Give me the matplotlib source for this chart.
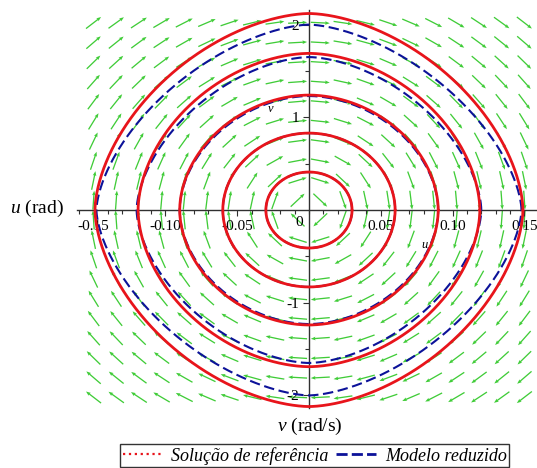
import numpy as np
import matplotlib
matplotlib.use("Agg")
import matplotlib.pyplot as plt
from matplotlib.lines import Line2D
from matplotlib.ticker import FixedLocator, FixedFormatter

plt.rcParams['font.family'] = ['Liberation Serif', 'DejaVu Serif']
plt.rcParams['axes.unicode_minus'] = False
plt.rcParams['mathtext.fontset'] = 'custom'
plt.rcParams['mathtext.it'] = 'Liberation Serif:italic'
plt.rcParams['mathtext.rm'] = 'Liberation Serif'

# ---- closed orbits: amplitudes in u (rad), v (rad/s) and roundness exponent ----
ref_u_amp = [0.030, 0.060, 0.090, 0.119, 0.149]
ref_v_amp = [0.41, 0.83, 1.24, 1.69, 2.12]
ref_shape = [2.00, 1.96, 1.90, 1.82, 1.72]

rom_u_amp = [0.030, 0.060, 0.090, 0.120, 0.148]
rom_v_amp = [0.41, 0.83, 1.23, 1.65, 2.00]
rom_shape = [2.00, 1.96, 1.86, 1.70, 1.62]

# ---- direction field: grid and model coefficients ----
field_u_range = (-0.15, 0.15)
field_v_range = (-2.02, 2.02)
field_n = 20
omega2 = 196.0      # linear stiffness term
soft_c = 8.0        # cubic softening coefficient

x_ticks = [-0.15, -0.10, -0.05, 0.05, 0.10, 0.15]
x_tick_labels = ['-0.15', '-0.10', '-0.05', '0.05', '0.10', '0.15']
y_ticks = [-2, -1, 1, 2]
y_tick_labels = ['-2', '-1', '1', '2']

legend_labels = ['Solução de referência', 'Modelo reduzido']

RED = '#e8141b'
BLUE = '#0c1299'
GREEN = '#40cc38'

W, H = 537, 468
fig = plt.figure(figsize=(W / 100, H / 100), dpi=100)

# axes box in pixels (left, right, top, bottom)
xl, xr, yt, yb = 76.6, 537.0, 9.8, 408.4
ax = fig.add_axes([xl / W, 1 - yb / H, (xr - xl) / W, (yb - yt) / H])
ax.set_xlim(-0.1618, 0.1588)
ax.set_ylim(-2.14, 2.16)
ax.patch.set_alpha(0)

# axes crossing at the origin
for side in ('top', 'right'):
    ax.spines[side].set_visible(False)
for side in ('left', 'bottom'):
    ax.spines[side].set_position(('data', 0))
    ax.spines[side].set_color('#303030')
    ax.spines[side].set_linewidth(1.0)
    ax.spines[side].set_zorder(1.5)

ax.xaxis.set_major_locator(FixedLocator(x_ticks))
ax.xaxis.set_major_formatter(FixedFormatter(x_tick_labels))
ax.xaxis.set_minor_locator(FixedLocator(np.round(np.arange(-0.16, 0.161, 0.01), 3)))
ax.yaxis.set_major_locator(FixedLocator(y_ticks))
ax.yaxis.set_major_formatter(FixedFormatter(y_tick_labels))
ax.yaxis.set_minor_locator(FixedLocator([-1.5, -0.5, 0.5, 1.5]))
ax.tick_params(which='both', direction='out', color='#303030', width=0.8,
               labelsize=11)
ax.tick_params(which='major', length=4, pad=3)
ax.tick_params(which='minor', length=3)

# direction field, arrows of constant on-screen length
sx = (xr - xl) / (ax.get_xlim()[1] - ax.get_xlim()[0])
sy = (yb - yt) / (ax.get_ylim()[1] - ax.get_ylim()[0])
uu, vv = np.meshgrid(np.linspace(*field_u_range, field_n),
                     np.linspace(*field_v_range, field_n))
du = vv
dv = -omega2 * (uu - soft_c * uu ** 3)
px, py = du * sx, dv * sy
nrm = np.hypot(px, py)
L = 19.0
U = L * px / nrm / sx
V = L * py / nrm / sy
ax.quiver(uu, vv, U, V, angles='xy', scale_units='xy', scale=1,
          pivot='middle', color=GREEN, units='dots', width=1.3,
          headwidth=2.8, headlength=3.6, headaxislength=3.2, zorder=1)

t = np.linspace(0, 2 * np.pi, 1441)


def orbit(a, b, n):
    c, s = np.cos(t), np.sin(t)
    return (a * np.sign(c) * np.abs(c) ** (2 / n),
            b * np.sign(s) * np.abs(s) ** (2 / n))


for a, b, n in zip(rom_u_amp, rom_v_amp, rom_shape):
    x, y = orbit(a, b, n)
    ax.plot(x, y, color=BLUE, lw=1.5, dashes=(5, 2.2), zorder=2)

for a, b, n in zip(ref_u_amp, ref_v_amp, ref_shape):
    x, y = orbit(a, b, n)
    ax.plot(x, y, color=RED, lw=2.0, zorder=3, solid_capstyle='round')

# origin label and small axis names
ax.annotate('0', xy=(0, 0), xytext=(-4, -4), textcoords='offset points',
            ha='right', va='top', fontsize=11)
ax.text(-0.027, 1.09, 'v', fontsize=9, style='italic', ha='center', va='center')
ax.text(0.0808, -0.378, 'u', fontsize=9, style='italic', ha='center', va='center')

fig.text(10 / W, 1 - 208 / H, r'$u$ (rad)', fontsize=14, ha='left', va='center')
fig.text(310 / W, 1 - 426 / H, r'$v$ (rad/s)', fontsize=14, ha='center', va='center')

handles = [Line2D([], [], color=RED, ls=':', lw=1.6),
           Line2D([], [], color=BLUE, lw=2.0, dashes=(4, 1.5))]
leg = fig.legend(handles, legend_labels, ncol=2, loc='upper left',
                 bbox_to_anchor=(120 / W, 1 - 444 / H), frameon=True,
                 fancybox=False, edgecolor='black',
                 prop={'style': 'italic', 'size': 13}, handlelength=2.2,
                 columnspacing=0.4, handletextpad=0.5, borderpad=0.15,
                 borderaxespad=0)
leg.get_frame().set_linewidth(1.0)

fig.savefig('out.png', dpi=100)
